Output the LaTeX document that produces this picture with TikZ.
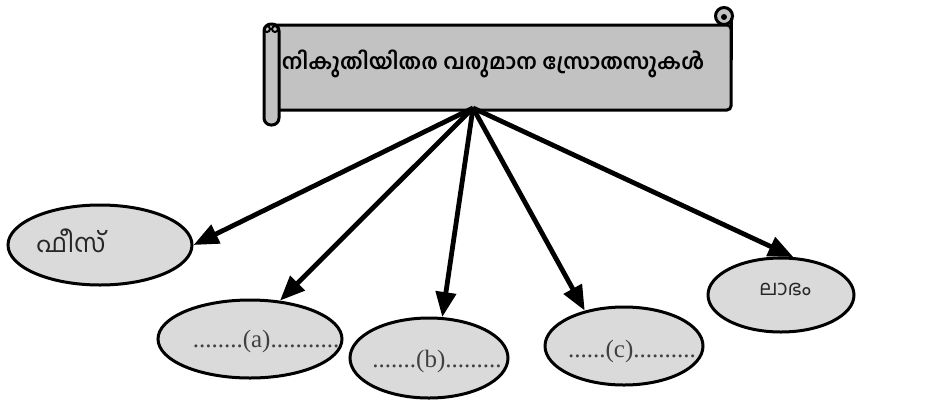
\documentclass[tikz,border=0pt]{standalone}
\usepackage{fontspec}
\setmainfont{Liberation Serif}
\newfontfamily\mal[Script=Malayalam]{Hind Kochi}
\usetikzlibrary{shapes.geometric,arrows.meta}
\definecolor{scrollgray}{HTML}{C2C2C2}
\definecolor{ellgray}{HTML}{DADADA}
\begin{document}
\begin{tikzpicture}[x=1pt,y=-1pt,
  bubble/.style={ellipse,draw=black,line width=3pt,fill=ellgray,inner sep=0pt},
  arr/.style={line width=4.8pt,-{Triangle[length=25pt,width=20pt]}},
  dotlabel/.style={font=\fontsize{25}{27}\selectfont,text=black!75,inner sep=0pt},
  mallabel/.style={font=\mal\fontsize{26}{30}\selectfont,text=black!85,inner sep=0pt},
  scrollline/.style={line width=3pt,draw=black,fill=scrollgray}]
\useasboundingbox (0,0) rectangle (949,405);
% scroll banner
\draw[scrollline,rounded corners=4pt] (272,25) -- (731,25) -- (731,110) -- (272,110) -- cycle;
\draw[scrollline] (724,16) circle (8.5pt);
\fill[black] (724,17) circle (3pt);
\draw[scrollline] (731,18) -- (731,60);
\draw[scrollline,rounded corners=7pt] (264,24) rectangle (279,125);
\draw[line width=2pt] (267,29) circle (3pt);
\draw[line width=2pt] (275,29) circle (3pt);
\node[font=\mal\bfseries\fontsize{21.5}{25}\selectfont,inner sep=0pt] (title) at (493,64) {നികുതിയിതര വരുമാന സ്രോതസുകൾ};
% ellipses
\node[bubble,minimum width=184pt,minimum height=80pt] (fees) at (100,245) {};
\node[bubble,minimum width=184pt,minimum height=78pt] (a) at (250,339) {};
\node[bubble,minimum width=158pt,minimum height=80pt] (b) at (429,358) {};
\node[bubble,minimum width=158pt,minimum height=78pt] (c) at (624,346) {};
\node[bubble,minimum width=146pt,minimum height=74pt] (labh) at (781,295) {};
% labels
\node[mallabel] (tfees) at (71,241) {ഫീസ്};
\node[mallabel,font=\mal\fontsize{21}{24}\selectfont] (tlabh) at (785,289) {ലാഭം};
\node[dotlabel] (ta) at (266,341) {........(a)...........};
\node[dotlabel] (tb) at (437,361) {.......(b).........};
\node[dotlabel] (tc) at (632,351) {......(c)..........};
% arrows
\coordinate (hub) at (473,108);
\draw[arr] (hub) -- (fees.east);
\draw[arr] (hub) -- (a.52);
\draw[arr] (hub) -- (b.72);
\draw[arr] (hub) -- (c.138);
\draw[arr] (hub) -- (labh.72);
\end{tikzpicture}
\end{document}
